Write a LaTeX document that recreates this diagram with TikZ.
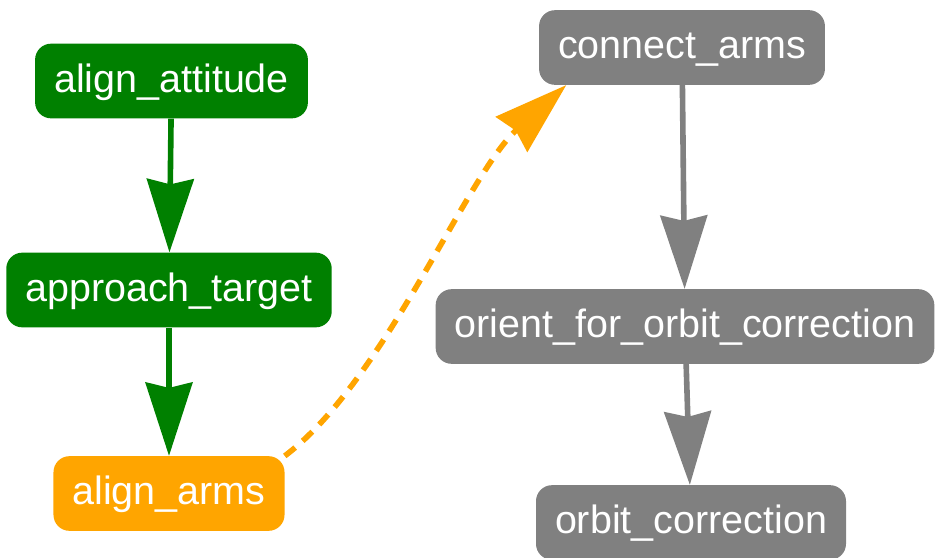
\documentclass[tikz,border=0pt]{standalone}
\usepackage{fontspec}
\setmainfont{Liberation Sans}
\usepackage{xcolor}
\usepackage{tikz}
\usetikzlibrary{arrows.meta}
\definecolor{donegreen}{RGB}{0,128,0}
\definecolor{activeorange}{RGB}{255,165,0}
\definecolor{todogray}{RGB}{128,128,128}
\tikzset{
    taskbox/.style={rectangle, rounded corners=12pt, text=white, inner xsep=14.25pt,
        minimum height=56pt, text height=22pt, text depth=5.5pt,
        font=\fontsize{29.6}{34}\selectfont},
    flowline/.style={line width=4.2pt, -{Stealth[length=55pt,width=35pt,inset=4pt]}}
}

\begin{document}
\begin{tikzpicture}[x=0.75pt,y=0.75pt,yscale=-1,xscale=1]
        \useasboundingbox (0,0) rectangle (935,557);
        \clip (0,0) rectangle (935,557);

        \node [taskbox, fill=donegreen] (attitude) at (171.5,81) {align\_attitude};
        \node [taskbox, fill=donegreen] (approach) at (169,290) {approach\_target};
        \node [taskbox, fill=activeorange] (arms) at (169,493.5) {align\_arms};
        \node [taskbox, fill=todogray] (connect) at (682,47.5) {connect\_arms};
        \node [taskbox, fill=todogray] (orient) at (685,326.5) {orient\_for\_orbit\_correction};
        \node [taskbox, fill=todogray] (orbit) at (691,522.5) {orbit\_correction};

        \draw [flowline, donegreen] (attitude) -- (approach);
        \draw [flowline, donegreen] (approach) -- (arms);
        \draw [flowline, activeorange, dash pattern=on 10pt off 7.5pt] (arms.18) .. controls +(100,-75) and +(-100,90) .. (connect.198);
        \draw [flowline, todogray] (connect) -- (orient);
        \draw [flowline, todogray] (orient) -- (orbit);
\end{tikzpicture}
\end{document}
